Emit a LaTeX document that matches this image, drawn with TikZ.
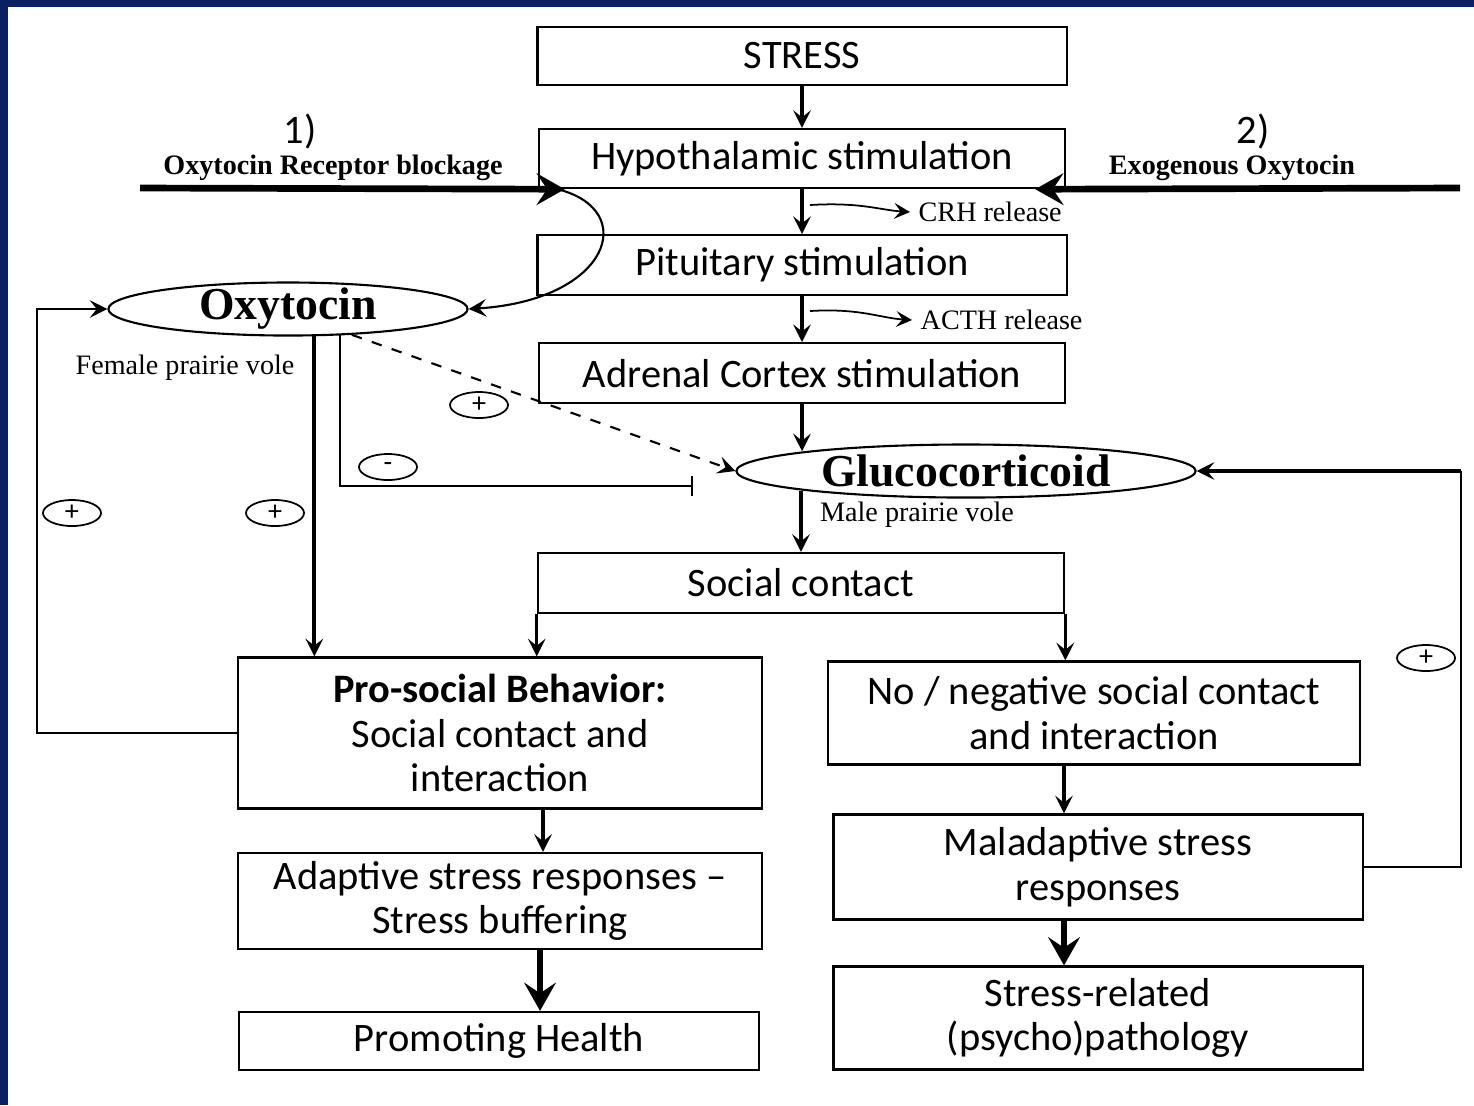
\documentclass[tikz,border=0pt]{standalone}
\usepackage{fontspec}
\setmainfont{Liberation Serif}
\newfontfamily\calib{Carlito}
\usetikzlibrary{arrows.meta,shapes.geometric}
\definecolor{navy}{HTML}{0B2060}

\begin{document}
\begin{tikzpicture}[x=0.01cm, y=-0.01cm,
  box/.style={draw, rectangle, line width=0.65pt, align=center, inner sep=0pt,
    font=\calib\fontsize{11.5}{12.7}\selectfont},
  oval/.style={draw, ellipse, line width=0.6pt, inner sep=0pt},
  hormone/.style={font=\bfseries\fontsize{13}{13}\selectfont},
  sign/.style={draw, ellipse, line width=0.5pt, minimum width=0.58cm, minimum height=0.26cm,
    inner sep=0pt, font=\calib\fontsize{8}{8}\selectfont},
  note/.style={font=\fontsize{8}{8}\selectfont},
  arr/.style={-{Stealth[length=5pt,width=5pt,inset=2pt]}, line width=0.9pt},
  bigarr/.style={-{Stealth[length=8pt,width=9pt,inset=3pt]}, line width=1.9pt},
  thinarr/.style={-{Stealth[length=4.5pt,width=4.5pt,inset=1.8pt]}, line width=0.5pt},
  link/.style={line width=0.7pt}]
\useasboundingbox (0,0) rectangle (1474,1105);
\fill[white] (0,0) rectangle (1474,1105);
\fill[navy] (0,0) rectangle (1474,7);
\fill[navy] (0,0) rectangle (8,1105);

% HPA axis
\node[box, minimum width=5.29cm, minimum height=0.58cm] (stress) at (802,56) {STRESS};
\node[box, minimum width=5.26cm, minimum height=0.59cm, node distance=1.025cm, below of=stress] (hypo) {Hypothalamic stimulation};
\node[box, minimum width=5.29cm, minimum height=0.60cm, node distance=1.065cm, below of=hypo] (pit) {Pituitary stimulation};
\node[box, minimum width=5.26cm, minimum height=0.60cm, node distance=1.08cm, below of=pit] (adr) {Adrenal Cortex stimulation};
\node[oval, minimum width=4.59cm, minimum height=0.53cm, label={[hormone]center:Glucocorticoid}] (gluco) at (966,471) {};
\node[box, minimum width=5.26cm, minimum height=0.60cm] (soc) at (801,583) {Social contact};

% outcomes
\node[box, minimum width=5.23cm, minimum height=1.51cm] (pro) at (500,733) {\textbf{Pro-social Behavior:}\\Social contact and\\interaction};
\node[box, minimum width=5.32cm, minimum height=1.03cm] (neg) at (1094,713) {No / negative social contact\\and interaction};
\node[box, minimum width=5.23cm, minimum height=0.96cm] (adapt) at (500,901) {Adaptive stress responses –\\Stress buffering};
\node[box, minimum width=5.29cm, minimum height=1.05cm] (mal) at (1098,867) {Maladaptive stress\\responses};
\node[box, minimum width=5.20cm, minimum height=0.58cm] (health) at (499,1041) {Promoting Health};
\node[box, minimum width=5.29cm, minimum height=1.03cm] (patho) at (1098,1018) {Stress-related\\(psycho)pathology};

% oxytocin
\node[oval, minimum width=3.59cm, minimum height=0.53cm, label={[hormone]center:Oxytocin}] (oxy) at (288,309) {};

% labels
\node[note] (fem) at (185,368) {Female prairie vole};
\node[note] (male) at (917,515) {Male prairie vole};
\node[note, anchor=west, inner sep=0pt] (crh) at (918,212) {CRH release};
\node[note, anchor=west, inner sep=0pt] (acth) at (920,320) {ACTH release};
\node[font=\calib\fontsize{11.5}{12}\selectfont] (one) at (300,131) {1)};
\node[note, font=\bfseries\fontsize{8}{8}\selectfont] (block) at (333,168) {Oxytocin Receptor blockage};
\node[font=\calib\fontsize{11.5}{12}\selectfont] (two) at (1253,131) {2)};
\node[note, font=\bfseries\fontsize{8}{8}\selectfont] (exo) at (1232,168) {Exogenous Oxytocin};

\node[sign] (plusa) at (72,513) {+};
\node[sign] (plusb) at (275,513) {+};
\node[sign] (plusc) at (479,405) {+};
\node[sign] (minus) at (388,467) {-};
\node[sign] (plusd) at (1426,658) {+};

\coordinate (blockstart) at (140,188);
\coordinate (exostart) at (1460,188);
\coordinate (crhfrom) at (810,205);
\coordinate (acthfrom) at (810,311);
\coordinate (inh) at (693,486);
\coordinate (fbr) at (1461,471);

% main flow
\draw[arr] (stress) -- (hypo);
\draw[arr] (hypo) -- (pit);
\draw[arr] (pit) -- (adr);
\draw[arr] (adr.south) -- (adr.south |- gluco.173);
\draw[arr] (soc.north |- gluco.187) -- (soc.north);
\draw[arr] (soc.south west) -- (soc.south west |- pro.north);
\draw[arr] (soc.south east) -- (soc.south east |- neg.north);
\draw[arr] ([xshift=0.43cm]pro.south) -- ([xshift=0.43cm]pro.south |- adapt.north);
\draw[bigarr] ([xshift=0.4cm]adapt.south) -- ([xshift=0.4cm]adapt.south |- health.north);
\draw[arr] ([xshift=-0.3cm]neg.south) -- ([xshift=-0.3cm]neg.south |- mal.north);
\draw[bigarr] ([xshift=-0.34cm]mal.south) -- ([xshift=-0.34cm]mal.south |- patho.north);

\draw[thinarr] (crhfrom) .. controls (860,202) and (880,210) .. ([xshift=-0.08cm]crh.west);
\draw[thinarr] (acthfrom) .. controls (860,308) and (880,318) .. ([xshift=-0.08cm]acth.west);

% interventions
\draw[bigarr] (blockstart) -- ([xshift=0.27cm]hypo.south west);
\draw[bigarr] (exostart) -- ([xshift=-0.31cm]hypo.south east);
\draw[arr, line width=0.6pt] ([xshift=0.2cm]hypo.south west) .. controls (640,210) and (610,300) .. (oxy.east);

% feedback
\draw[link] (mal.east) -| (fbr);
\draw[arr, line width=1.4pt] (fbr) -- (gluco.east);
\draw[arr, line width=0.7pt] (pro.west) -- ++(-200,0) |- (oxy.west);
\draw[arr, line width=1.2pt] (oxy.-46) -- (oxy.-46 |- pro.north);
\draw[arr, dashed, line width=0.6pt] (oxy.-22) -- (gluco.west);
\draw[link, -{Bar[width=0.2cm]}] (oxy.-27) |- (inh);
\end{tikzpicture}
\end{document}
